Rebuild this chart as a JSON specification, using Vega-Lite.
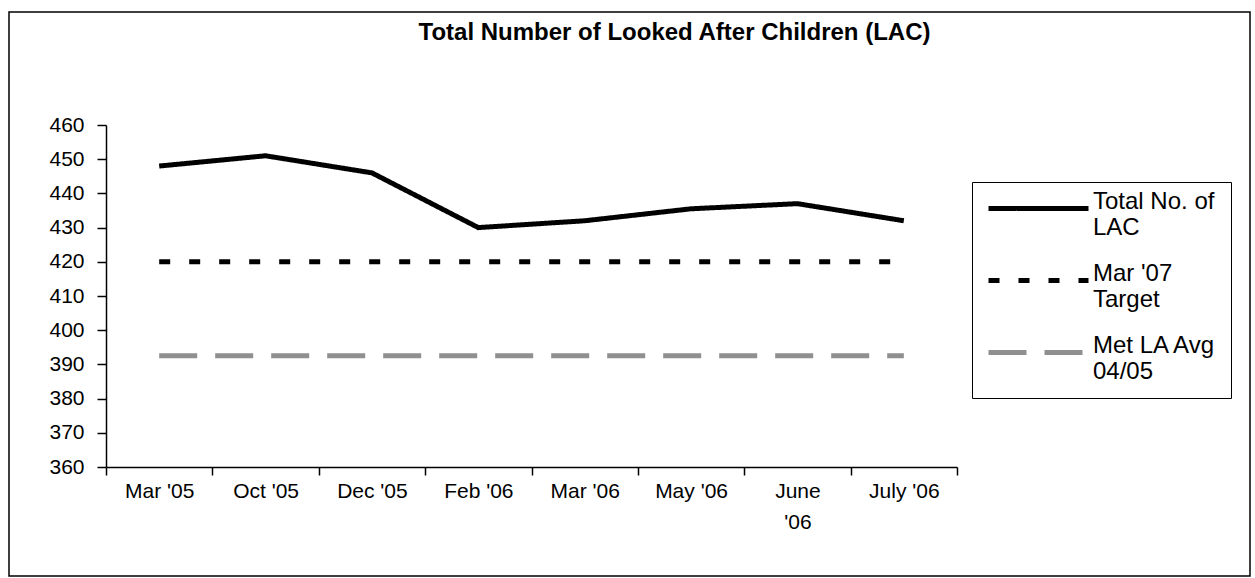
{
  "$schema": "https://vega.github.io/schema/vega-lite/v6.json",
  "autosize": "none",
  "padding": {"left": 9, "top": 12, "right": 4, "bottom": 2},
  "width": 1241,
  "height": 564,
  "title": {
    "text": "Total Number of Looked After Children (LAC)",
    "font": "Liberation Sans",
    "fontSize": 24,
    "fontWeight": "bold",
    "color": "black",
    "anchor": "middle",
    "frame": "group",
    "orient": "top",
    "baseline": "middle",
    "offset": -45,
    "dx": 45
  },
  "data": {
    "values": [
      {"month": "Mar '05", "series": "Total No. of LAC", "value": 448},
      {"month": "Oct '05", "series": "Total No. of LAC", "value": 451},
      {"month": "Dec '05", "series": "Total No. of LAC", "value": 446},
      {"month": "Feb '06", "series": "Total No. of LAC", "value": 430},
      {"month": "Mar '06", "series": "Total No. of LAC", "value": 432},
      {"month": "May '06", "series": "Total No. of LAC", "value": 435.5},
      {"month": "June '06", "series": "Total No. of LAC", "value": 437},
      {"month": "July '06", "series": "Total No. of LAC", "value": 432},
      {"month": "Mar '05", "series": "Mar '07 Target", "value": 420},
      {"month": "Oct '05", "series": "Mar '07 Target", "value": 420},
      {"month": "Dec '05", "series": "Mar '07 Target", "value": 420},
      {"month": "Feb '06", "series": "Mar '07 Target", "value": 420},
      {"month": "Mar '06", "series": "Mar '07 Target", "value": 420},
      {"month": "May '06", "series": "Mar '07 Target", "value": 420},
      {"month": "June '06", "series": "Mar '07 Target", "value": 420},
      {"month": "July '06", "series": "Mar '07 Target", "value": 420},
      {"month": "Mar '05", "series": "Met LA Avg 04/05", "value": 392.5},
      {"month": "Oct '05", "series": "Met LA Avg 04/05", "value": 392.5},
      {"month": "Dec '05", "series": "Met LA Avg 04/05", "value": 392.5},
      {"month": "Feb '06", "series": "Met LA Avg 04/05", "value": 392.5},
      {"month": "Mar '06", "series": "Met LA Avg 04/05", "value": 392.5},
      {"month": "May '06", "series": "Met LA Avg 04/05", "value": 392.5},
      {"month": "June '06", "series": "Met LA Avg 04/05", "value": 392.5},
      {"month": "July '06", "series": "Met LA Avg 04/05", "value": 392.5}
    ]
  },
  "mark": {"type": "line", "strokeWidth": 5, "strokeCap": "butt"},
  "encoding": {
    "x": {
      "field": "month",
      "type": "nominal",
      "sort": null,
      "bandPosition": 0.5,
      "scale": {"type": "band", "range": [97, 948], "paddingInner": 0, "paddingOuter": 0},
      "axis": {
        "title": null,
        "orient": "bottom",
        "offset": -109,
        "labelAngle": 0,
        "tickBand": "extent",
        "tickSize": 8,
        "tickColor": "black",
        "tickWidth": 1.5,
        "domainColor": "black",
        "domainWidth": 1.5,
        "labelFont": "Liberation Sans",
        "labelFontSize": 21,
        "labelColor": "black",
        "labelPadding": 5,
        "labelLineHeight": 31,
        "labelExpr": "datum.label == \"June '06\" ? ['June', \"'06\"] : datum.label",
        "grid": false
      }
    },
    "y": {
      "field": "value",
      "type": "quantitative",
      "scale": {"domain": [360, 460], "range": [455, 113], "nice": false, "zero": false},
      "axis": {
        "title": null,
        "orient": "left",
        "offset": -97,
        "values": [360, 370, 380, 390, 400, 410, 420, 430, 440, 450, 460],
        "tickSize": 9,
        "tickColor": "black",
        "tickWidth": 1.5,
        "domainColor": "black",
        "domainWidth": 1.5,
        "labelFont": "Liberation Sans",
        "labelFontSize": 21,
        "labelColor": "black",
        "labelPadding": 13,
        "grid": false
      }
    },
    "color": {
      "field": "series",
      "type": "nominal",
      "sort": ["Total No. of LAC", "Mar '07 Target", "Met LA Avg 04/05"],
      "scale": {
        "domain": ["Total No. of LAC", "Mar '07 Target", "Met LA Avg 04/05"],
        "range": ["#000000", "#000000", "#8f8f8f"]
      },
      "legend": {
        "title": null,
        "orient": "none",
        "legendX": 963,
        "legendY": 170,
        "strokeColor": "black",
        "padding": 14,
        "symbolType": "M-1,0H9",
        "symbolSize": 400,
        "symbolStrokeWidth": 5,
        "labelOffset": 82,
        "labelFont": "Liberation Sans",
        "labelFontSize": 24,
        "labelColor": "black",
        "labelBaseline": "alphabetic",
        "labelLineHeight": 29,
        "labelLimit": 300,
        "rowPadding": 21,
        "labelExpr": "datum.label == 'Total No. of LAC' ? ['Total No. of', 'LAC'] : datum.label == \"Mar '07 Target\" ? [\"Mar '07\", 'Target'] : ['Met LA Avg', '04/05']"
      }
    },
    "strokeDash": {
      "field": "series",
      "type": "nominal",
      "sort": ["Total No. of LAC", "Mar '07 Target", "Met LA Avg 04/05"],
      "scale": {
        "domain": ["Total No. of LAC", "Mar '07 Target", "Met LA Avg 04/05"],
        "range": [[1, 0], [11, 19], [38, 18]]
      },
      "legend": null
    }
  },
  "config": {
    "background": "white",
    "view": {"stroke": "black", "strokeWidth": 1.5}
  }
}
